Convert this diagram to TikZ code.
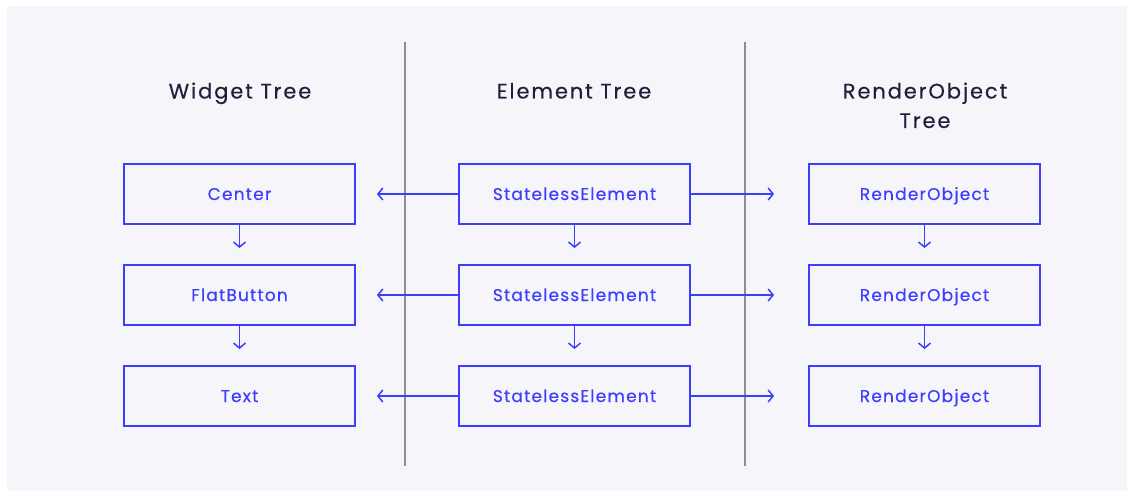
\documentclass[tikz,border=0pt]{standalone}
\usepackage{fontspec}
\setmainfont{Poppins}
\newfontfamily\boxfont[LetterSpace=7,FakeBold=0.3]{Poppins}
\newfontfamily\headfont[LetterSpace=9,FakeBold=0.3]{Poppins}
\usetikzlibrary{arrows.meta,calc}
\definecolor{panel}{HTML}{F6F6FA}
\definecolor{ink}{HTML}{3D3DFF}
\definecolor{head}{HTML}{1F1F3D}
\definecolor{rule}{HTML}{8C8C9C}
\tikzset{
  box/.style={draw=ink, line width=1.8pt, minimum width=231pt, minimum height=60pt,
    inner sep=0pt, text=ink, text height=12pt, text depth=0pt,
    font=\boxfont\fontsize{17}{20}\selectfont},
  title/.style={text=head, anchor=base, font=\headfont\fontsize{21}{29.5}\selectfont, align=center},
  link/.style={draw=ink, line width=1.5pt, -{Straight Barb[length=5pt,width=12pt,line width=1.5pt]}},
  divider/.style={draw=rule, line width=1.2pt}
}
\begin{document}
\begin{tikzpicture}[x=1pt,y=-1pt]
\useasboundingbox (0,0) rectangle (1134,497);
\fill[white] (0,0) rectangle (1134,497);
\fill[panel] (7,6) rectangle (1127,491);

% column dividers
\coordinate (d1a) at (405,42); \coordinate (d1b) at (405,466);
\coordinate (d2a) at (745,42); \coordinate (d2b) at (745,466);
\draw[divider] (d1a) -- (d1b);
\draw[divider] (d2a) -- (d2b);

% column headings (base anchor sits on the last line's baseline)
\node[title] (tw) at (240,98.5) {Widget Tree};
\node[title] (te) at (574,98.5) {Element Tree};
\node[title] (tr) at (925,128) {RenderObject\\Tree};

% widget tree
\node[box] (w1) at (239.5,194) {Center};
\node[box] (w2) at (239.5,295) {FlatButton};
\node[box] (w3) at (239.5,396) {Text};

% element tree
\node[box] (e1) at (574.5,194) {StatelessElement};
\node[box] (e2) at (574.5,295) {StatelessElement};
\node[box] (e3) at (574.5,396) {StatelessElement};

% render object tree
\node[box] (r1) at (924.5,194) {RenderObject};
\node[box] (r2) at (924.5,295) {RenderObject};
\node[box] (r3) at (924.5,396) {RenderObject};

% vertical links within each tree
\foreach \a/\b in {w1/w2,w2/w3,e1/e2,e2/e3,r1/r2,r2/r3}{
  \draw[link] (\a.south) -- ($(\a.south)!0.59!(\b.north)$);
}

% links from elements to widgets and render objects
\foreach \i in {1,2,3}{
  \coordinate (lw\i) at ($(w\i.east)+(21,0)$);
  \coordinate (lr\i) at ($(r\i.west)+(-34,0)$);
  \draw[link] (e\i.west) -- (lw\i);
  \draw[link] (e\i.east) -- (lr\i);
}
\end{tikzpicture}
\end{document}
